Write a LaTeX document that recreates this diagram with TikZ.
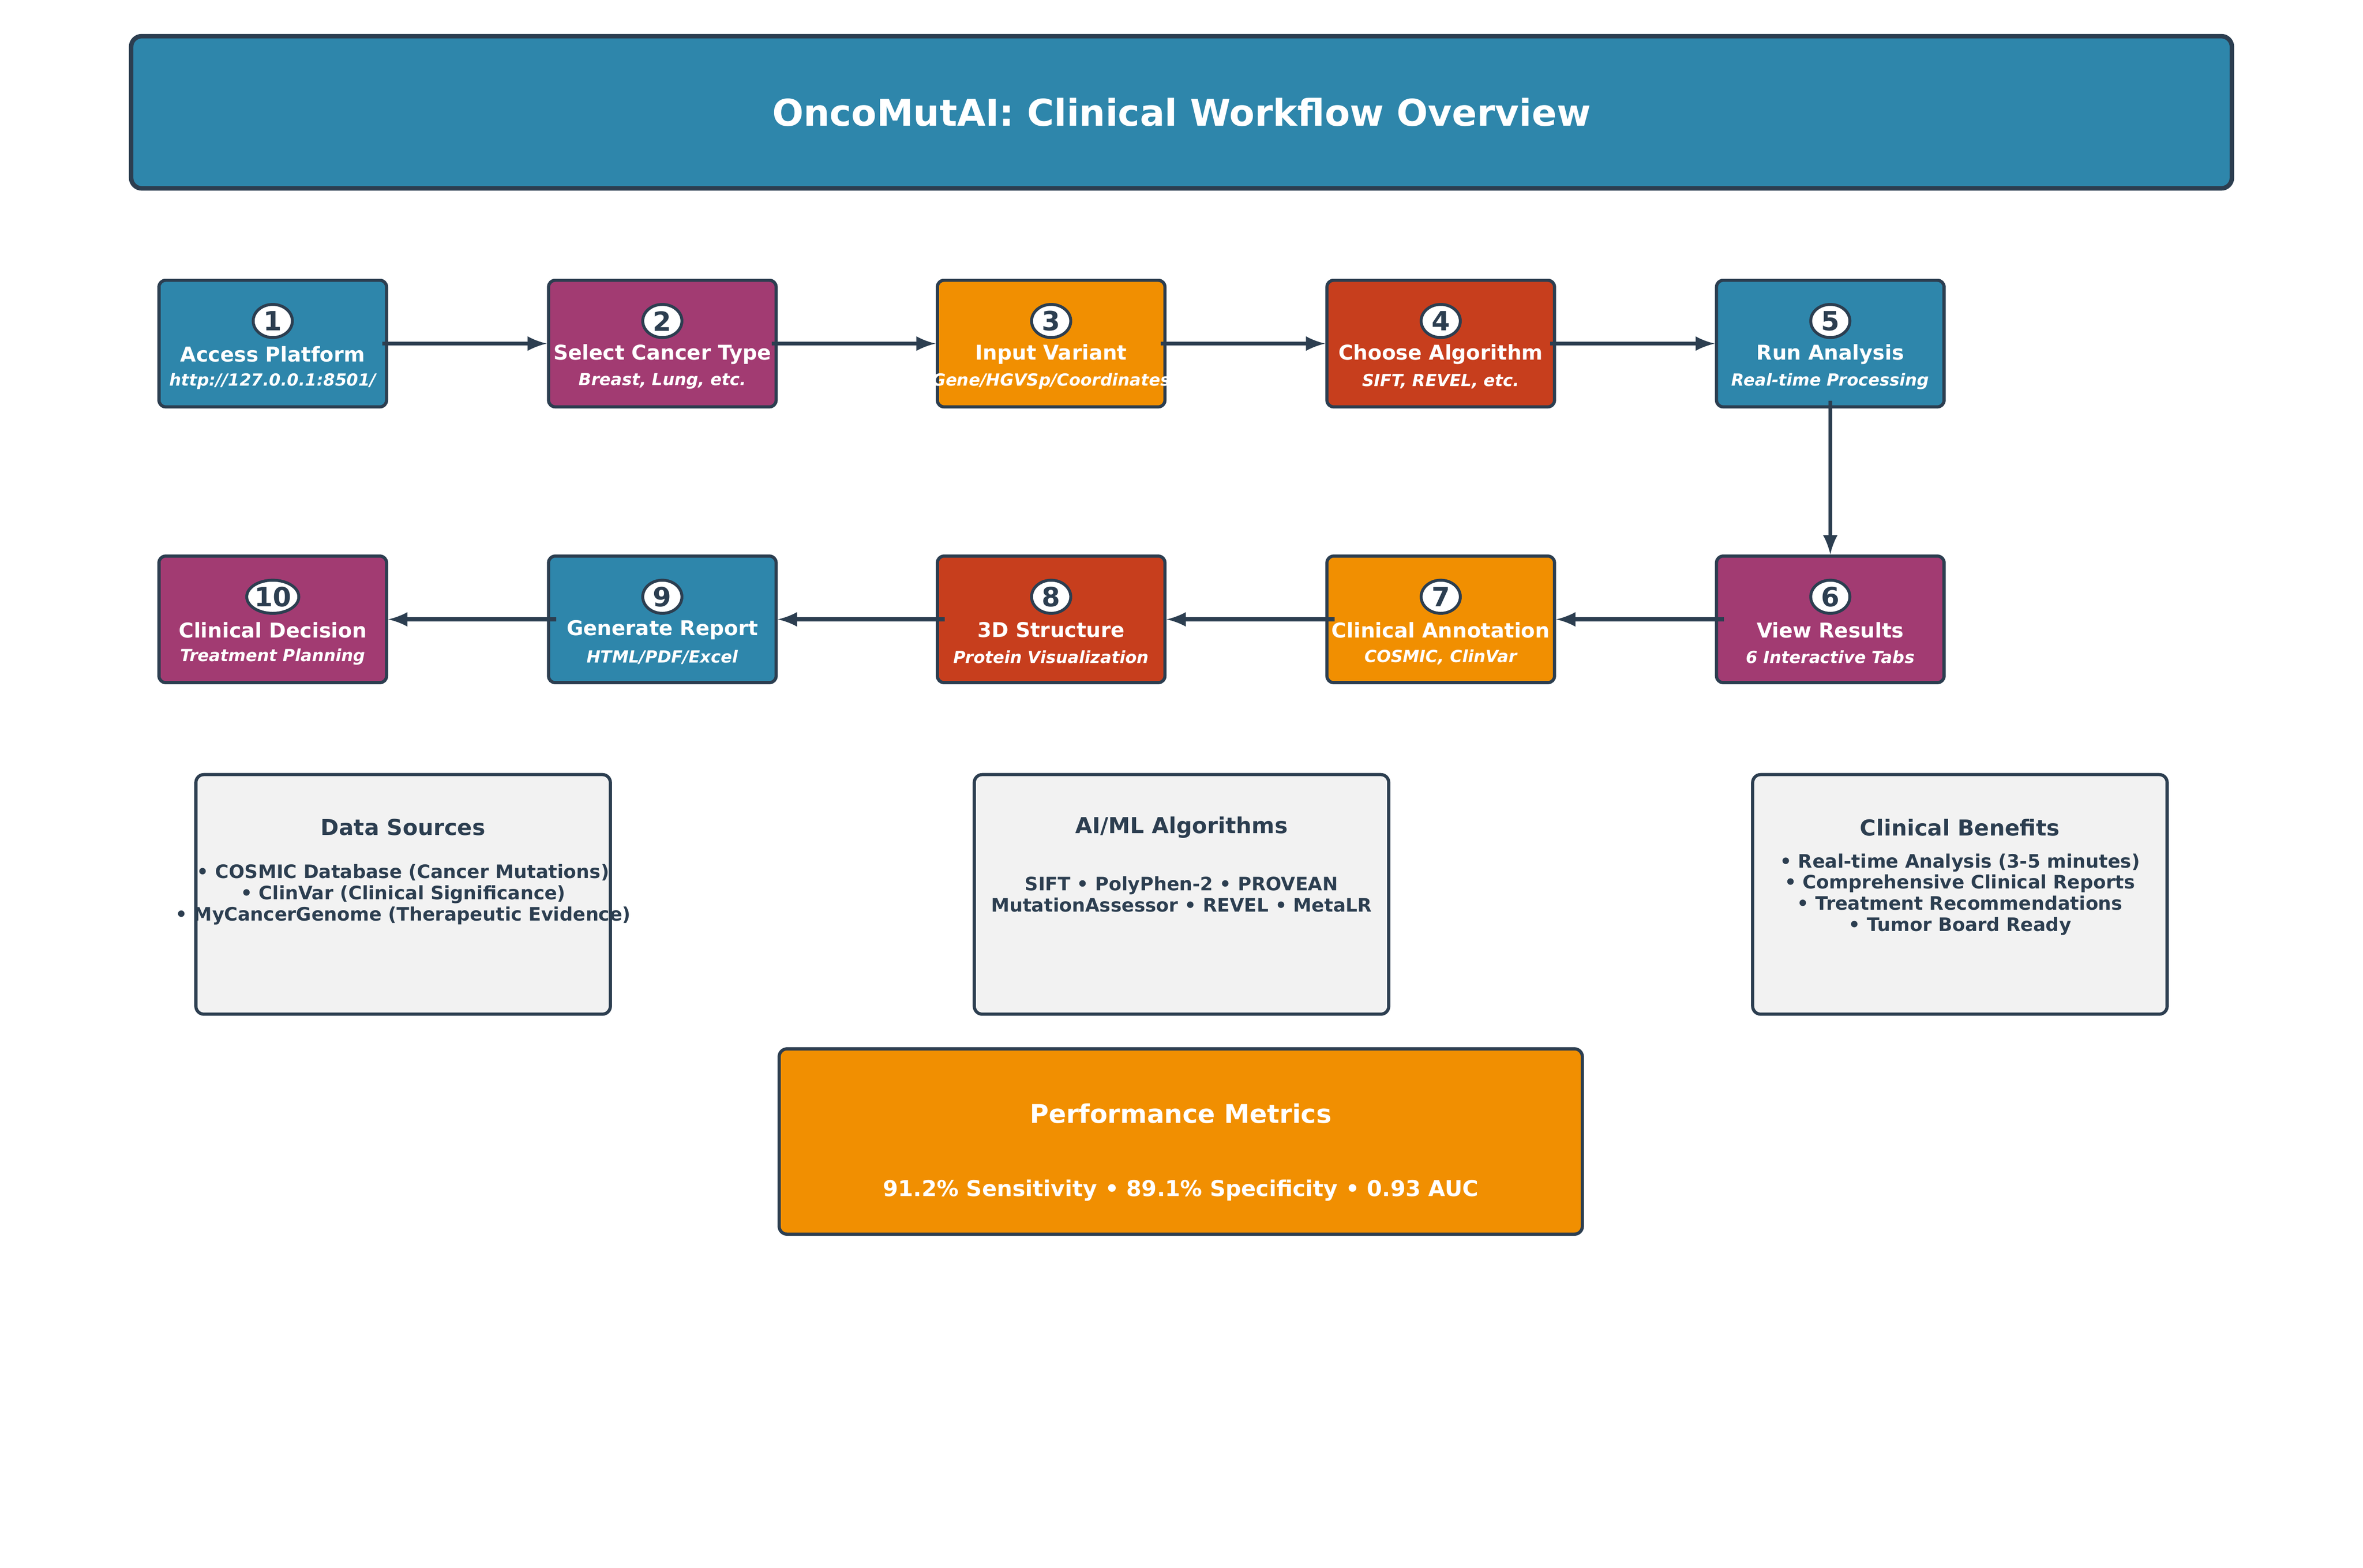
\documentclass[tikz,border=0pt]{standalone}
\usepackage{fontspec}
\setmainfont{DejaVu Sans}
\usepackage{tikz}
\usetikzlibrary{shapes.geometric}

\definecolor{cblue}{HTML}{2E86AB}
\definecolor{cmag}{HTML}{A23B72}
\definecolor{corange}{HTML}{F18F01}
\definecolor{cred}{HTML}{C73E1D}
\definecolor{cdark}{HTML}{2C3E50}
\definecolor{cgray}{HTML}{F2F2F2}

\begin{document}
\begin{tikzpicture}[
    stepbox/.style={draw=cdark, line width=1.2pt, rounded corners=2.5pt, minimum width=3.02cm, minimum height=1.68cm},
    numdot/.style={ellipse, draw=cdark, line width=1.1pt, fill=white, minimum width=0.52cm, minimum height=0.44cm, inner sep=0pt, text=cdark, font=\fontsize{10}{11}\selectfont\bfseries},
    steptitle/.style={text=white, inner sep=0pt, font=\fontsize{7.7}{9}\selectfont\bfseries},
    stepsub/.style={text=white, inner sep=0pt, font=\fontsize{6.3}{7}\selectfont\bfseries\itshape},
    infobox/.style={draw=cdark, line width=1.2pt, fill=cgray, rounded corners=3pt, minimum width=5.5cm, minimum height=3.18cm},
    infotitle/.style={text=cdark, inner sep=0pt, font=\fontsize{8.3}{10}\selectfont\bfseries},
    infotext/.style={text=cdark, inner sep=0pt, align=center, font=\fontsize{7}{8}\selectfont\bfseries},
    flow/.style={-latex, draw=cdark, line width=1.5pt}
  ]
      \useasboundingbox (0,0) rectangle (31.36,-20.81);

      % header
      \node[draw=cdark, line width=1.7pt, fill=cblue, rounded corners=4pt, minimum width=27.88cm, minimum height=2.02cm,
        text=white, font=\fontsize{13.9}{16}\selectfont\bfseries] (head) at (15.68,-1.49) {OncoMutAI: Clinical Workflow Overview};

      % first row
      \node[stepbox, fill=cblue] (s1) at (3.62,-4.56) {};
      \node[numdot] (n1) at ([yshift=0.30cm]s1.center) {1};
      \node[steptitle] (t1) at ([yshift=-0.14cm]s1.center) {Access Platform};
      \node[stepsub] (u1) at ([yshift=-0.50cm]s1.center) {http://127.0.0.1:8501/};

      \node[stepbox, fill=cmag] (s2) at (8.79,-4.56) {};
      \node[numdot] (n2) at ([yshift=0.30cm]s2.center) {2};
      \node[steptitle] (t2) at ([yshift=-0.14cm]s2.center) {Select Cancer Type};
      \node[stepsub] (u2) at ([yshift=-0.50cm]s2.center) {Breast, Lung, etc.};

      \node[stepbox, fill=corange] (s3) at (13.95,-4.56) {};
      \node[numdot] (n3) at ([yshift=0.30cm]s3.center) {3};
      \node[steptitle] (t3) at ([yshift=-0.14cm]s3.center) {Input Variant};
      \node[stepsub] (u3) at ([yshift=-0.50cm]s3.center) {Gene/HGVSp/Coordinates};

      \node[stepbox, fill=cred] (s4) at (19.12,-4.56) {};
      \node[numdot] (n4) at ([yshift=0.30cm]s4.center) {4};
      \node[steptitle] (t4) at ([yshift=-0.14cm]s4.center) {Choose Algorithm};
      \node[stepsub] (u4) at ([yshift=-0.50cm]s4.center) {SIFT, REVEL, etc.};

      \node[stepbox, fill=cblue] (s5) at (24.29,-4.56) {};
      \node[numdot] (n5) at ([yshift=0.30cm]s5.center) {5};
      \node[steptitle] (t5) at ([yshift=-0.14cm]s5.center) {Run Analysis};
      \node[stepsub] (u5) at ([yshift=-0.50cm]s5.center) {Real-time Processing};

      % second row
      \node[stepbox, fill=cmag] (s6) at (24.29,-8.22) {};
      \node[numdot] (n6) at ([yshift=0.30cm]s6.center) {6};
      \node[steptitle] (t6) at ([yshift=-0.14cm]s6.center) {View Results};
      \node[stepsub] (u6) at ([yshift=-0.50cm]s6.center) {6 Interactive Tabs};

      \node[stepbox, fill=corange] (s7) at (19.12,-8.22) {};
      \node[numdot] (n7) at ([yshift=0.30cm]s7.center) {7};
      \node[steptitle] (t7) at ([yshift=-0.14cm]s7.center) {Clinical Annotation};
      \node[stepsub] (u7) at ([yshift=-0.50cm]s7.center) {COSMIC, ClinVar};

      \node[stepbox, fill=cred] (s8) at (13.95,-8.22) {};
      \node[numdot] (n8) at ([yshift=0.30cm]s8.center) {8};
      \node[steptitle] (t8) at ([yshift=-0.14cm]s8.center) {3D Structure};
      \node[stepsub] (u8) at ([yshift=-0.50cm]s8.center) {Protein Visualization};

      \node[stepbox, fill=cblue] (s9) at (8.79,-8.22) {};
      \node[numdot] (n9) at ([yshift=0.30cm]s9.center) {9};
      \node[steptitle] (t9) at ([yshift=-0.14cm]s9.center) {Generate Report};
      \node[stepsub] (u9) at ([yshift=-0.50cm]s9.center) {HTML/PDF/Excel};

      \node[stepbox, fill=cmag] (s10) at (3.62,-8.22) {};
      \node[numdot] (n10) at ([yshift=0.30cm]s10.center) {10};
      \node[steptitle] (t10) at ([yshift=-0.14cm]s10.center) {Clinical Decision};
      \node[stepsub] (u10) at ([yshift=-0.50cm]s10.center) {Treatment Planning};

      % arrows
      \draw[flow] ([xshift=-0.08cm]s1.east) -- (s2.west);
      \draw[flow] ([xshift=-0.08cm]s2.east) -- (s3.west);
      \draw[flow] ([xshift=-0.08cm]s3.east) -- (s4.west);
      \draw[flow] ([xshift=-0.08cm]s4.east) -- (s5.west);
      \draw[flow] ([yshift=0.1cm]s5.south) -- (s6.north);
      \draw[flow] ([xshift=0.12cm]s6.west) -- (s7.east);
      \draw[flow] ([xshift=0.12cm]s7.west) -- (s8.east);
      \draw[flow] ([xshift=0.12cm]s8.west) -- (s9.east);
      \draw[flow] ([xshift=0.12cm]s9.west) -- (s10.east);

      % info boxes
      \node[infobox] (data) at (5.35,-11.87) {};
      \node[infotitle] (datat) at ([yshift=0.89cm]data.center) {Data Sources};
      \node[infotext] (datal) at (data.center) {• COSMIC Database (Cancer Mutations)\\• ClinVar (Clinical Significance)\\• MyCancerGenome (Therapeutic Evidence)};

      \node[infobox] (algo) at (15.68,-11.87) {};
      \node[infotitle] (algot) at ([yshift=0.89cm]algo.center) {AI/ML Algorithms};
      \node[infotext] (algol) at (algo.center) {SIFT • PolyPhen-2 • PROVEAN\\MutationAssessor • REVEL • MetaLR};

      \node[infobox] (bene) at (26.01,-11.87) {};
      \node[infotitle] (benet) at ([yshift=0.89cm]bene.center) {Clinical Benefits};
      \node[infotext] (benel) at (bene.center) {• Real-time Analysis (3-5 minutes)\\• Comprehensive Clinical Reports\\• Treatment Recommendations\\• Tumor Board Ready};

      % metrics
      \node[draw=cdark, line width=1.2pt, fill=corange, rounded corners=3pt, minimum width=10.66cm, minimum height=2.46cm] (perf) at (15.67,-15.15) {};
      \node[text=white, inner sep=0pt, font=\fontsize{9.7}{11}\selectfont\bfseries] (perft) at ([yshift=0.37cm]perf.center) {Performance Metrics};
      \node[text=white, inner sep=0pt, font=\fontsize{8.25}{10}\selectfont\bfseries] (perfl) at ([yshift=-0.65cm]perf.center) {91.2\% Sensitivity • 89.1\% Specificity • 0.93 AUC};

\end{tikzpicture}
\end{document}
